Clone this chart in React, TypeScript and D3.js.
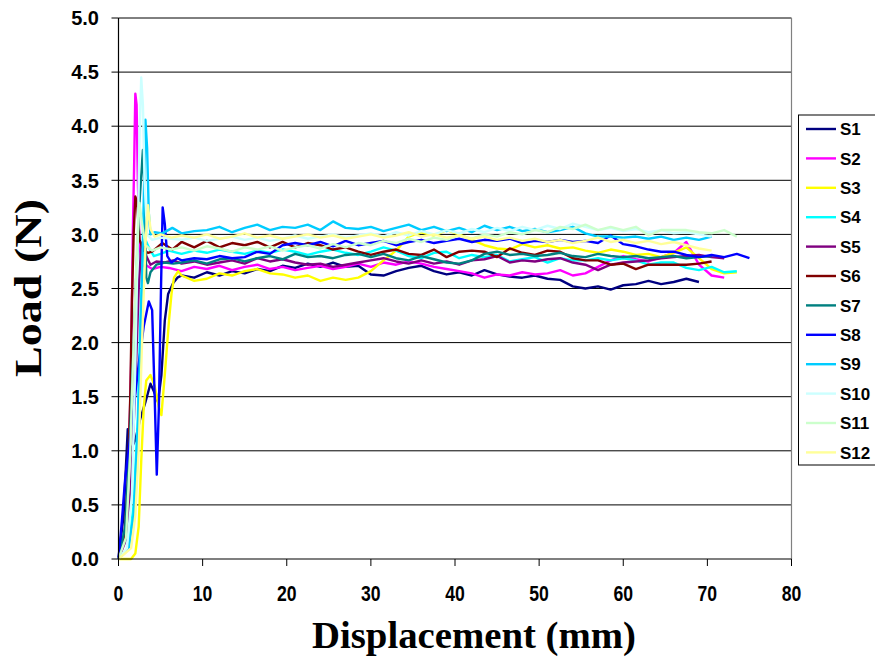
import React from "react";
import * as d3 from "d3";

// ---------- DATA ----------
const seriesNames = ["S1", "S2", "S3", "S4", "S5", "S6", "S7", "S8", "S9", "S10", "S11", "S12"];
const seriesColors = ["#000080", "#FF00FF", "#FFFF00", "#00FFFF", "#800080", "#800000", "#008080", "#0000FF", "#00CCFF", "#CCFFFF", "#CCFFCC", "#FFFF99"];
const xTicks = [0, 10, 20, 30, 40, 50, 60, 70, 80];
const yTicks = [0, 0.5, 1, 1.5, 2, 2.5, 3, 3.5, 4, 4.5, 5];

// initial loading part of each curve: [displacement, load]
const rise1 = [[0, 0], [0.6, 0.4], [1.1, 1.2], [1.4, 1.0], [2.0, 1.1], [2.6, 1.3], [3.2, 1.45], [3.8, 1.62], [4.2, 1.55], [4.7, 1.45], [5.1, 1.7], [5.5, 2.2], [5.9, 2.45], [6.5, 2.55], [7, 2.6]];
const rise2 = [[0, 0], [0.8, 0.2], [1.2, 0.8], [1.5, 1.8], [1.7, 3.0], [1.85, 3.6], [2.0, 4.3], [2.15, 4.2], [2.3, 3.5], [2.5, 2.9], [2.8, 2.7], [3.2, 2.72], [4, 2.68], [5, 2.7], [6, 2.69]];
const rise3 = [[0, 0], [1.5, 0], [2.0, 0.05], [2.4, 0.3], [2.7, 0.9], [3.0, 1.4], [3.3, 1.65], [3.8, 1.7], [4.3, 1.6], [4.8, 1.4], [5.1, 1.33], [5.5, 1.7], [6.0, 2.2], [6.3, 2.45], [6.6, 2.6], [7.1, 2.66]];
const rise4 = [[0, 0], [1.2, 0.1], [1.8, 0.5], [2.3, 1.3], [2.6, 2.2], [2.9, 2.8], [3.2, 2.95], [3.6, 2.88], [4.2, 2.8], [5, 2.82], [6, 2.85], [7, 2.83]];
const rise5 = [[0, 0], [1.0, 0.2], [1.5, 0.7], [2.0, 1.6], [2.4, 2.5], [2.7, 2.9], [3.0, 2.95], [3.3, 2.8], [3.8, 2.72], [4.5, 2.75], [5.5, 2.74], [6.5, 2.76]];
const rise6 = [[0, 0], [0.7, 0.2], [1.1, 0.7], [1.4, 1.5], [1.6, 2.4], [1.8, 3.0], [2.0, 3.35], [2.2, 3.3], [2.5, 2.95], [3.0, 2.85], [3.5, 2.83], [4.0, 2.84], [5.2, 2.92], [6.4, 2.86]];
const rise7 = [[0, 0], [0.8, 0.3], [1.3, 1.0], [1.7, 1.8], [2.1, 2.6], [2.5, 3.3], [2.9, 3.78], [3.1, 3.4], [3.3, 2.6], [3.5, 2.55], [3.8, 2.65], [4.5, 2.72], [5.5, 2.74], [6.5, 2.73]];
const rise8 = [[0, 0], [0.4, 0.35], [0.8, 0.75], [1.2, 1.0], [1.8, 1.4], [2.4, 1.8], [3.0, 2.15], [3.6, 2.38], [4.0, 2.3], [4.3, 1.5], [4.55, 0.78], [4.8, 1.4], [5.05, 2.5], [5.25, 3.25], [5.5, 3.1], [5.8, 2.8], [6.3, 2.74], [7, 2.78]];
const rise9 = [[0, 0], [1.2, 0.1], [1.8, 0.4], [2.3, 1.2], [2.7, 2.3], [3.0, 3.3], [3.2, 4.06], [3.4, 3.8], [3.6, 3.2], [3.8, 3.0], [4.3, 3.02], [5.2, 3.01], [6.4, 3.06]];
const rise10 = [[0, 0], [1.0, 0.1], [1.6, 0.6], [2.0, 1.8], [2.3, 3.0], [2.5, 3.9], [2.7, 4.45], [2.9, 4.2], [3.1, 3.5], [3.4, 3.0], [4.0, 2.95], [5, 2.97], [6.3, 2.96]];
const rise11 = [[0, 0], [0.9, 0.2], [1.4, 1.0], [1.8, 2.0], [2.2, 2.9], [2.5, 3.29], [2.8, 3.1], [3.2, 2.9], [4, 2.85], [5, 2.88], [6.3, 2.86]];
const rise12 = [[0, 0], [1.5, 0.1], [2.0, 0.4], [2.4, 1.0], [2.8, 2.0], [3.2, 2.9], [3.5, 3.27], [3.8, 3.05], [4.3, 2.98], [5, 3.0], [6.3, 2.97]];

// plateau part: load values read every 1.5 mm starting at 7.5 mm
const plateauStart = 7.5;
const plateauStep = 1.5;
const plat1 = [2.62, 2.6, 2.65, 2.62, 2.66, 2.64, 2.68, 2.66, 2.71, 2.69, 2.73, 2.7, 2.74, 2.7, 2.71, 2.63, 2.62, 2.66, 2.69, 2.71, 2.66, 2.63, 2.65, 2.62, 2.67, 2.63, 2.61, 2.6, 2.62, 2.59, 2.58, 2.52, 2.5, 2.52, 2.49, 2.53, 2.54, 2.57, 2.54, 2.56, 2.59, 2.56];
const plat2 = [2.66, 2.7, 2.68, 2.71, 2.67, 2.7, 2.72, 2.68, 2.7, 2.67, 2.69, 2.71, 2.68, 2.7, 2.73, 2.7, 2.74, 2.72, 2.75, 2.73, 2.7, 2.68, 2.66, 2.64, 2.6, 2.63, 2.62, 2.65, 2.63, 2.64, 2.67, 2.62, 2.64, 2.7, 2.76, 2.8, 2.77, 2.75, 2.79, 2.83, 2.93, 2.72, 2.62, 2.6];
const plat3 = [2.62, 2.57, 2.59, 2.64, 2.62, 2.66, 2.68, 2.64, 2.63, 2.6, 2.62, 2.57, 2.6, 2.58, 2.6, 2.66, 2.76, 2.85, 2.98, 3.02, 2.99, 3.04, 3.0, 2.95, 2.9, 2.87, 2.86, 2.91, 2.88, 2.9, 2.87, 2.88, 2.85, 2.83, 2.86, 2.84, 2.81, 2.82, 2.79, 2.83, 2.88, 2.78, 2.68, 2.64, 2.65];
const plat4 = [2.82, 2.85, 2.83, 2.86, 2.84, 2.82, 2.85, 2.83, 2.86, 2.84, 2.81, 2.84, 2.86, 2.83, 2.81, 2.84, 2.88, 2.85, 2.8, 2.78, 2.83, 2.84, 2.78, 2.81, 2.79, 2.81, 2.75, 2.77, 2.79, 2.74, 2.78, 2.76, 2.76, 2.78, 2.76, 2.78, 2.76, 2.72, 2.74, 2.74, 2.69, 2.67, 2.7, 2.65, 2.66];
const plat5 = [2.73, 2.75, 2.72, 2.74, 2.76, 2.73, 2.78, 2.75, 2.77, 2.74, 2.72, 2.73, 2.7, 2.72, 2.74, 2.76, 2.78, 2.75, 2.73, 2.76, 2.73, 2.75, 2.72, 2.76, 2.77, 2.8, 2.74, 2.76, 2.75, 2.77, 2.78, 2.74, 2.72, 2.67, 2.72, 2.74, 2.75, 2.76, 2.78, 2.79, 2.8, 2.81, 2.79, 2.78];
const plat6 = [2.93, 2.88, 2.94, 2.88, 2.92, 2.9, 2.93, 2.88, 2.93, 2.88, 2.92, 2.9, 2.86, 2.88, 2.84, 2.81, 2.84, 2.86, 2.82, 2.81, 2.86, 2.79, 2.84, 2.85, 2.84, 2.79, 2.87, 2.83, 2.81, 2.85, 2.84, 2.78, 2.76, 2.76, 2.72, 2.73, 2.68, 2.72, 2.72, 2.72, 2.72, 2.73, 2.75];
const plat7 = [2.74, 2.76, 2.73, 2.77, 2.78, 2.75, 2.78, 2.8, 2.77, 2.82, 2.79, 2.8, 2.78, 2.81, 2.82, 2.79, 2.82, 2.78, 2.76, 2.8, 2.77, 2.74, 2.73, 2.76, 2.82, 2.84, 2.81, 2.82, 2.8, 2.81, 2.83, 2.8, 2.79, 2.82, 2.8, 2.79, 2.8, 2.78, 2.79, 2.8, 2.78, 2.79, 2.8];
const plat8 = [2.76, 2.78, 2.77, 2.8, 2.78, 2.79, 2.84, 2.82, 2.9, 2.92, 2.9, 2.93, 2.89, 2.94, 2.9, 2.92, 2.94, 2.9, 2.93, 2.95, 2.92, 2.94, 2.96, 2.93, 2.95, 2.94, 2.96, 2.92, 2.94, 2.93, 2.95, 2.93, 2.94, 2.92, 2.99, 2.91, 2.89, 2.86, 2.84, 2.84, 2.81, 2.79, 2.81, 2.79, 2.82, 2.78];
const plat9 = [3.01, 3.03, 3.04, 3.07, 3.02, 3.06, 3.09, 3.04, 3.07, 3.06, 3.09, 3.04, 3.12, 3.06, 3.05, 3.07, 3.03, 3.06, 3.09, 3.04, 3.07, 3.03, 3.06, 3.02, 3.08, 3.04, 3.07, 3.03, 3.05, 3.02, 3.04, 3.07, 3.01, 2.98, 2.98, 2.97, 2.98, 2.96, 2.98, 2.95, 2.97, 2.95, 2.98];
const plat10 = [2.95, 2.97, 2.94, 2.96, 2.98, 2.95, 2.97, 2.94, 2.96, 2.99, 2.96, 2.98, 3.0, 2.97, 2.99, 3.01, 2.98, 3.02, 2.99, 3.03, 3.0, 3.04, 3.01, 3.05, 3.02, 3.06, 3.03, 3.07, 3.04, 3.08, 3.05, 3.1, 3.07, 3.04, 3.06, 3.03, 3.05, 3.02, 3.04, 3.01, 3.02, 3.0, 2.98];
const plat11 = [2.88, 2.85, 2.89, 2.87, 2.84, 2.88, 2.86, 2.89, 2.85, 2.88, 2.9, 2.87, 2.91, 2.88, 2.92, 2.9, 2.94, 2.92, 2.96, 2.93, 2.97, 2.95, 2.99, 2.96, 3.0, 2.98, 3.02, 3.0, 3.04, 3.02, 3.07, 3.05, 3.09, 3.04, 3.07, 3.04, 3.07, 2.99, 3.04, 3.04, 3.04, 3.02, 3.01, 3.04, 2.98];
const plat12 = [2.99, 2.97, 3.0, 2.96, 2.98, 3.01, 2.97, 2.99, 2.96, 2.98, 3.0, 2.97, 2.99, 2.96, 2.98, 3.0, 2.97, 2.99, 3.02, 2.98, 3.0, 2.97, 2.99, 2.96, 2.98, 2.95, 2.97, 2.94, 2.96, 2.93, 2.95, 2.92, 2.94, 2.97, 2.93, 2.95, 2.92, 2.94, 2.91, 2.93, 2.9, 2.87, 2.85];

const rises = [rise1, rise2, rise3, rise4, rise5, rise6, rise7, rise8, rise9, rise10, rise11, rise12];
const plateaus = [plat1, plat2, plat3, plat4, plat5, plat6, plat7, plat8, plat9, plat10, plat11, plat12];

// ---------- LAYOUT ----------
const W = 875;
const H = 660;
const plotLeft = 118.5;
const plotRight = 791.5;
const plotTop = 18;
const plotBottom = 559;

const sans = "'Liberation Sans', Arial, Helvetica, sans-serif";
const serif = "'Liberation Serif', 'Times New Roman', Times, serif";

export default function App() {
  const x = d3.scaleLinear().domain([0, 80]).range([plotLeft, plotRight]);
  const y = d3.scaleLinear().domain([0, 5]).range([plotBottom, plotTop]);
  const line = d3
    .line<[number, number]>()
    .x((d) => x(d[0]))
    .y((d) => y(d[1]));

  const series = seriesNames.map((name, i) => {
    const pts: [number, number][] = rises[i].map((p) => [p[0], p[1]] as [number, number]);
    plateaus[i].forEach((v, k) => pts.push([plateauStart + k * plateauStep, v]));
    return { name, color: seriesColors[i], pts };
  });

  const legendTop = 115;
  const legendRowH = 29.4;

  return (
    <svg
      width={W}
      height={H}
      viewBox={`0 0 ${W} ${H}`}
      style={{ position: "absolute", left: 0, top: 0, background: "#fff" }}
    >
      <rect x={0} y={0} width={W} height={H} fill="#fff" />
      {/* gridlines */}
      {yTicks.filter((t) => t > 0).map((t) => (
        <line key={"g" + t} x1={plotLeft} x2={plotRight} y1={y(t)} y2={y(t)} stroke="#000" strokeWidth={1} />
      ))}
      {/* right border */}
      <line x1={plotRight} x2={plotRight} y1={plotTop} y2={plotBottom} stroke="#808080" strokeWidth={1.2} />

      {/* series */}
      {series.map((s) => (
        <path key={s.name} d={line(s.pts) || ""} fill="none" stroke={s.color} strokeWidth={2.4} strokeLinejoin="round" />
      ))}

      {/* axes */}
      <line x1={plotLeft} x2={plotLeft} y1={plotTop} y2={plotBottom} stroke="#000" strokeWidth={1.2} />
      <line x1={plotLeft} x2={plotRight} y1={plotBottom} y2={plotBottom} stroke="#000" strokeWidth={1.2} />
      {yTicks.map((t) => (
        <g key={"yt" + t}>
          <line x1={plotLeft - 7} x2={plotLeft} y1={y(t)} y2={y(t)} stroke="#000" strokeWidth={1} />
          <text x={99} y={y(t)} dy="0.36em" textAnchor="end" fontFamily={sans} fontWeight="bold" fontSize={20} fill="#000">
            {t.toFixed(1)}
          </text>
        </g>
      ))}
      {xTicks.map((t) => (
        <g key={"xt" + t}>
          <line x1={x(t)} x2={x(t)} y1={plotBottom} y2={plotBottom + 7} stroke="#000" strokeWidth={1} />
          <text
            transform={`translate(${x(t)}, 601) scale(0.8, 1)`}
            textAnchor="middle"
            fontFamily={sans}
            fontWeight="bold"
            fontSize={22}
            fill="#000"
          >
            {t}
          </text>
        </g>
      ))}

      {/* axis titles */}
      <text x={474} y={648} textAnchor="middle" fontFamily={serif} fontWeight="bold" fontSize={38} textLength={324} lengthAdjust="spacingAndGlyphs" fill="#000">
        Displacement (mm)
      </text>
      <text
        transform={`translate(41, 288) rotate(-90)`}
        textAnchor="middle"
        fontFamily={serif}
        fontWeight="bold"
        fontSize={37}
        textLength={178}
        lengthAdjust="spacingAndGlyphs"
        fill="#000"
      >
        Load (N)
      </text>

      {/* legend */}
      <rect x={798.5} y={legendTop} width={90} height={350} fill="#fff" stroke="#000" strokeWidth={1} />
      {series.map((s, i) => {
        const cy = legendTop + 14 + i * legendRowH;
        return (
          <g key={"lg" + s.name}>
            <line x1={806} x2={836} y1={cy} y2={cy} stroke={s.color} strokeWidth={2.4} />
            <text x={840} y={cy} dy="0.36em" fontFamily={sans} fontWeight="bold" fontSize={17} fill="#000">
              {s.name}
            </text>
          </g>
        );
      })}
    </svg>
  );
}
